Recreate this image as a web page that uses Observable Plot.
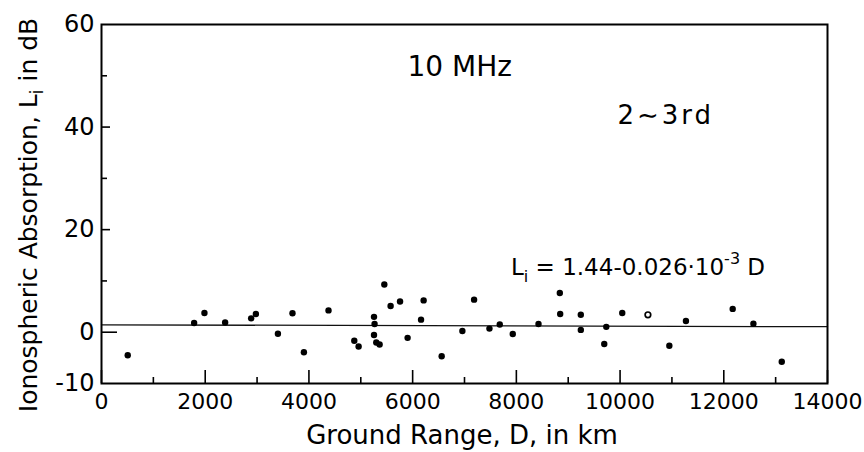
<!DOCTYPE html>
<html><head><meta charset="utf-8">
<script src="https://cdn.jsdelivr.net/npm/d3@7"></script>
<script src="https://cdn.jsdelivr.net/npm/@observablehq/plot@0.6"></script>
<style>body{margin:0;background:#fff} svg{display:block}</style>
</head><body><div id="chart"></div>
<script>
// Ground range D (km) and ionospheric absorption Li (dB)
const groundRange = [506,1786,1985,2384,2886,2977,3402,3683,3903,4378,
  4875,4958,5255,5266,5255,5299,5363,5454,5575,5757,5903,6212,6162,6560,
  6959,7185,7481,7680,7931,8427,8838,8845,9243,9243,9734,9695,10042,10537,
  10950,11270,12172,12571,13118];
const absorption = [-4.5,1.8,3.75,1.9,2.7,3.55,-0.3,3.7,-3.9,4.25,
  -1.65,-2.8,3.0,1.6,-0.55,-2.0,-2.4,9.3,5.1,6.0,-1.1,6.2,2.45,-4.7,
  0.25,6.35,0.7,1.5,-0.35,1.6,7.65,3.55,3.4,0.45,1.05,-2.3,3.75,3.4,
  -2.65,2.2,4.55,1.65,-5.75];
const hollowPoint = groundRange.map((d,i) => i === 37);
const xMajorTicks = [0,2000,4000,6000,8000,10000,12000,14000];
const xMinorTicks = [1000,3000,5000,7000,9000,11000,13000];
const yLabelTicks = [-10,0,20,40,60];
const yMajorTicks = [20,40];
const yMinorTicks = [10,30,50];
const yZeroTick = [0];
const fitIntercept = 1.44, fitSlope = -0.026e-3;
const frequencyLabel = "10 MHz";
const hopLabel = "2\u223C3rd";

const points = groundRange.map((d,i) => ({D: d, L: absorption[i], hollow: hollowPoint[i]}));
const fitLine = [0, 14000].map(d => ({D: d, L: fitIntercept + fitSlope * d}));
const font = "DejaVu Sans";

const W = 864, H = 452, mL = 101, mR = 37, mT = 24, mB = 69;
const xDomain = [0, 14000], yDomain = [-10, 60];
const pxPerX = (W - mL - mR) / (xDomain[1] - xDomain[0]);
const pxPerY = (H - mT - mB) / (yDomain[1] - yDomain[0]);
// inward tick helpers: tick lengths given in pixels, converted to data units
const xTicks = (ticks, len) => Plot.ruleX(ticks, {x: d => d, y1: yDomain[0], y2: yDomain[0] + len / pxPerY, stroke: "#000", strokeWidth: 1.6});
const yTicks = (ticks, len) => Plot.ruleY(ticks, {y: d => d, x1: xDomain[0], x2: xDomain[0] + len / pxPerX, stroke: "#000", strokeWidth: 1.6});

const plot = Plot.plot({
  width: W, height: H,
  marginLeft: mL, marginRight: mR, marginTop: mT, marginBottom: mB,
  style: {fontFamily: font, background: "#fff", color: "#000"},
  x: {domain: xDomain, axis: null},
  y: {domain: yDomain, axis: null},
  marks: [
    Plot.line(fitLine, {x: "D", y: "L", stroke: "#111", strokeWidth: 1.3}),
    Plot.frame({stroke: "#000", strokeWidth: 2}),
    xTicks(xMajorTicks, 13),
    xTicks(xMinorTicks, 6),
    yTicks(yMajorTicks, 9),
    yTicks(yMinorTicks, 6),
    yTicks(yZeroTick, 16),
    Plot.axisX({ticks: xMajorTicks, tickSize: 0, tickPadding: 10, fontSize: 22, label: null, tickFormat: d => String(d)}),
    Plot.axisY({ticks: yLabelTicks, tickSize: 0, tickPadding: 7, fontSize: 24, label: null, tickFormat: d => d < 0 ? "-" + (-d) : String(d)}),
    Plot.dot(points.filter(p => !p.hollow), {x: "D", y: "L", r: 3.2, fill: "#000", stroke: "none"}),
    Plot.dot(points.filter(p => p.hollow), {x: "D", y: "L", r: 2.8, fill: "#fff", stroke: "#000", strokeWidth: 1.7}),
    Plot.text([frequencyLabel], {frameAnchor: "top-left", dx: 306, dy: 51, textAnchor: "start", lineAnchor: "bottom", fontSize: 28, fill: "#000"}),
    Plot.text([hopLabel], {frameAnchor: "top-left", dx: 516, dy: 99, textAnchor: "start", lineAnchor: "bottom", fontSize: 26, fill: "#000"})
  ]
});

const svg = d3.select(plot);
svg.selectAll("text").filter(function() { return this.textContent === hopLabel; })
  .attr("letter-spacing", 3);
// x axis title
svg.append("text").attr("x", 462).attr("y", 444).attr("text-anchor", "middle")
  .attr("font-family", font).attr("font-size", 26).attr("fill", "#000")
  .text("Ground Range, D, in km");
// y axis title with subscript
const yl = svg.append("text").attr("transform", "translate(37,215) rotate(-90)")
  .attr("text-anchor", "middle").attr("font-family", font).attr("font-size", 25).attr("fill", "#000");
yl.append("tspan").text("Ionospheric Absorption, L");
yl.append("tspan").attr("font-size", 17).attr("dy", 6).text("i");
yl.append("tspan").attr("dy", -6).text(" in dB");
// regression equation
const eq = svg.append("text").attr("x", 511).attr("y", 275).attr("text-anchor", "start")
  .attr("font-family", font).attr("font-size", 23).attr("fill", "#000");
eq.append("tspan").text("L");
eq.append("tspan").attr("font-size", 16).attr("dy", 7).text("i");
eq.append("tspan").attr("dy", -7).text(" = 1.44-0.026\u00B710");
eq.append("tspan").attr("font-size", 16).attr("dy", -11).text("-3");
eq.append("tspan").attr("dy", 11).text(" D");

document.getElementById("chart").appendChild(plot);
</script>
</body></html>
